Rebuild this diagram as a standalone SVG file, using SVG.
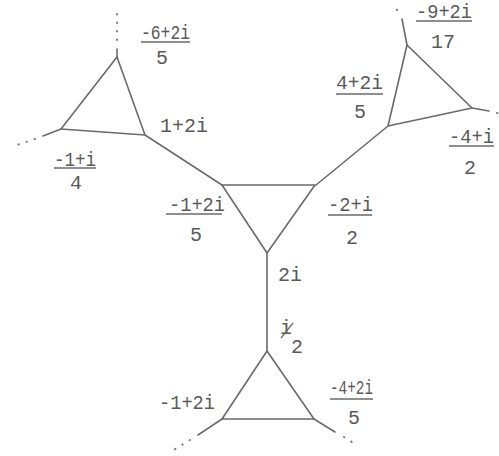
<svg xmlns="http://www.w3.org/2000/svg" width="499" height="456" viewBox="0 0 499 456">
<style>
.e{stroke:#6a6a6a;stroke-width:1.6;fill:none;stroke-linecap:round;stroke-linejoin:round}
.d{stroke:#7a7a7a;stroke-width:2;fill:none;stroke-linecap:round;stroke-dasharray:0.5 8}
.t{font-family:"Liberation Mono","DejaVu Sans Mono",monospace;font-size:20px;fill:#5a5a5a}
.b{stroke:#6a6a6a;stroke-width:1.3}
</style>
<rect width="499" height="456" fill="#ffffff"/>
<g id="connectors">
<line class="e" x1="145" y1="135" x2="222" y2="185"/>
<line class="e" x1="388" y1="126" x2="316" y2="185"/>
<line class="e" x1="267" y1="253" x2="267" y2="351"/>
<line class="e" x1="117" y1="57" x2="117" y2="49"/>
<path class="d" d="M117,40 L117,14"/>
<line class="e" x1="61" y1="129" x2="43" y2="136"/>
<path class="d" d="M35,139 L14,146"/>
<line class="e" x1="407" y1="45" x2="402" y2="19"/>
<path class="d" d="M397,10 L396,8"/>
<line class="e" x1="472" y1="108" x2="489" y2="111"/>
<path class="d" d="M497,113 L498,113"/>
<line class="e" x1="222" y1="419" x2="198" y2="435"/>
<path class="d" d="M190,440 L172,451"/>
<line class="e" x1="314" y1="419" x2="335" y2="432"/>
<path class="d" d="M344,437 L358,446"/>
</g>
<g id="node-top-left">
<polygon class="e" points="117,57 61,129 145,135"/>
<text class="t" x="141" y="39" textLength="49" lengthAdjust="spacingAndGlyphs">-6+2i</text>
<line class="b" x1="141" y1="42" x2="190" y2="42"/>
<text class="t" x="156" y="64">5</text>
<text class="t" x="160" y="132" textLength="48" lengthAdjust="spacingAndGlyphs">1+2i</text>
<text class="t" x="54" y="166" textLength="42" lengthAdjust="spacingAndGlyphs">-1+i</text>
<line class="b" x1="54" y1="168" x2="96" y2="168"/>
<text class="t" x="70" y="189">4</text>
</g>
<g id="node-top-right">
<polygon class="e" points="407,45 472,108 388,126"/>
<text class="t" x="416" y="18" textLength="56" lengthAdjust="spacingAndGlyphs">-9+2i</text>
<line class="b" x1="416" y1="21" x2="472" y2="21"/>
<text class="t" x="431" y="48">17</text>
<text class="t" x="336" y="89" textLength="47" lengthAdjust="spacingAndGlyphs">4+2i</text>
<line class="b" x1="336" y1="94" x2="383" y2="94"/>
<text class="t" x="354" y="118">5</text>
<text class="t" x="449" y="143" textLength="45" lengthAdjust="spacingAndGlyphs">-4+i</text>
<line class="b" x1="449" y1="146" x2="494" y2="146"/>
<text class="t" x="464" y="174">2</text>
</g>
<g id="node-center">
<polygon class="e" points="222,185 315,185 267,253"/>
<text class="t" x="169" y="211" textLength="56" lengthAdjust="spacingAndGlyphs">-1+2i</text>
<line class="b" x1="166" y1="214" x2="222" y2="214"/>
<text class="t" x="190" y="241">5</text>
<text class="t" x="328" y="211" textLength="45" lengthAdjust="spacingAndGlyphs">-2+i</text>
<line class="b" x1="328" y1="215" x2="372" y2="215"/>
<text class="t" x="346" y="244">2</text>
<text class="t" x="278" y="281">2i</text>
</g>
<g id="node-bottom">
<polygon class="e" points="267,351 222,419 314,419"/>
<text class="t" x="280" y="334" font-size="17">i</text>
<line class="b" x1="281" y1="338" x2="293" y2="323"/>
<text class="t" x="291" y="353">2</text>
<text class="t" x="159" y="409" textLength="56" lengthAdjust="spacingAndGlyphs">-1+2i</text>
<text class="t" x="330" y="394" textLength="43" lengthAdjust="spacingAndGlyphs">-4+2i</text>
<line class="b" x1="330" y1="399" x2="373" y2="399"/>
<text class="t" x="348" y="424">5</text>
</g>
</svg>
